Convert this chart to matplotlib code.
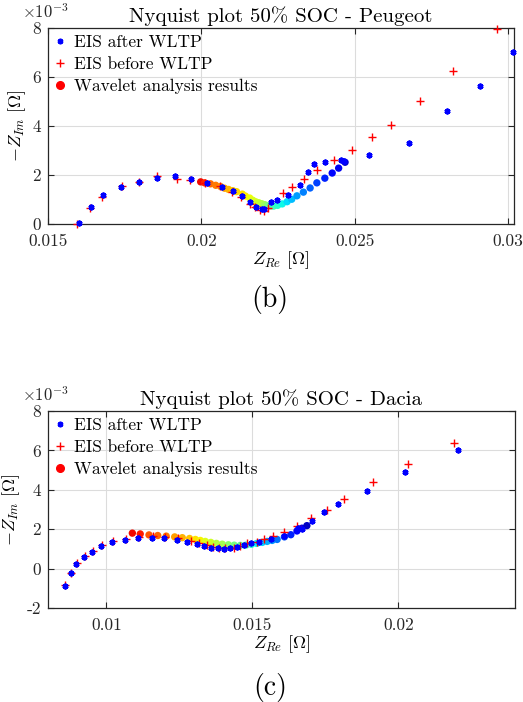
import numpy as np
import matplotlib
matplotlib.use("Agg")
import matplotlib.pyplot as plt
from matplotlib.ticker import MultipleLocator, FuncFormatter

plt.rcParams['font.family'] = 'serif'
plt.rcParams['font.serif'] = ['cmr10', 'DejaVu Serif']
plt.rcParams['mathtext.fontset'] = 'cm'
plt.rcParams['axes.formatter.use_mathtext'] = True
plt.rcParams['axes.unicode_minus'] = False

# ---------------- Peugeot (b) ----------------
peu_after_re = [0.01600, 0.01639, 0.01679, 0.01739, 0.01796, 0.01854, 0.01913, 0.01965,
                0.02020, 0.02066, 0.02104, 0.02133, 0.02158, 0.02179, 0.02197, 0.02205,
                0.02228, 0.02246, 0.02282, 0.02323, 0.02349, 0.02367, 0.02402, 0.02457,
                0.02465, 0.02547, 0.02677, 0.02802, 0.02908, 0.03018]
peu_after_im = [0.03, 0.68, 1.18, 1.53, 1.72, 1.89, 1.95, 1.82,
                1.66, 1.51, 1.34, 1.16, 0.89, 0.71, 0.63, 0.60,
                0.91, 0.97, 1.18, 1.61, 2.12, 2.46, 2.52, 2.62,
                2.57, 2.83, 3.31, 4.60, 5.65, 7.01]

peu_before_re = [0.01596, 0.01638, 0.01676, 0.01740, 0.01798, 0.01856, 0.01921, 0.01963,
                 0.02011, 0.02060, 0.02099, 0.02130, 0.02158, 0.02176, 0.02191, 0.02204,
                 0.02217, 0.02266, 0.02296, 0.02335, 0.02379, 0.02434, 0.02491, 0.02556,
                 0.02619, 0.02715, 0.02821, 0.02966]
peu_before_im = [0.00, 0.67, 1.10, 1.54, 1.73, 1.97, 1.84, 1.81,
                 1.66, 1.54, 1.32, 1.12, 0.81, 0.68, 0.57, 0.53,
                 0.64, 1.28, 1.51, 1.85, 2.22, 2.60, 3.04, 3.54,
                 4.06, 5.03, 6.25, 7.96]

peu_wav_re = [0.01998, 0.02011, 0.02030, 0.02047, 0.02063, 0.02076, 0.02089, 0.02103,
              0.02115, 0.02134, 0.02144, 0.02158, 0.02168, 0.02177, 0.02187, 0.02197,
              0.02207, 0.02216, 0.02226, 0.02236, 0.02249, 0.02264, 0.02280, 0.02295,
              0.02312, 0.02333, 0.02355, 0.02377, 0.02403, 0.02427, 0.02448, 0.02469]
peu_wav_im = [1.72, 1.68, 1.64, 1.58, 1.53, 1.46, 1.41, 1.36,
              1.32, 1.22, 1.14, 1.06, 0.97, 0.91, 0.87, 0.83,
              0.79, 0.75, 0.73, 0.73, 0.76, 0.82, 0.91, 1.01,
              1.15, 1.30, 1.47, 1.68, 1.87, 2.08, 2.28, 2.52]
peu_wav_c = [0.90, 0.87, 0.80, 0.78, 0.76, 0.74, 0.72, 0.70,
             0.68, 0.67, 0.66, 0.64, 0.62, 0.61, 0.59, 0.57,
             0.54, 0.50, 0.46, 0.43, 0.40, 0.37, 0.34, 0.31,
             0.28, 0.25, 0.22, 0.19, 0.16, 0.13, 0.10, 0.07]

# ---------------- Dacia (c) ----------------
dac_after_re = [0.008585, 0.008780, 0.008975, 0.009234, 0.009522, 0.009829, 0.010205,
                0.010632, 0.011077, 0.011548, 0.011969, 0.012413, 0.012779, 0.013110,
                0.013360, 0.013599, 0.013814, 0.014019, 0.014224, 0.014477, 0.014727,
                0.014956, 0.015215, 0.015632, 0.016070, 0.016572, 0.016709, 0.017040,
                0.017471, 0.017949, 0.018930, 0.020239, 0.022030]
dac_after_im = [-0.88, -0.23, 0.22, 0.58, 0.86, 1.17, 1.34,
                1.47, 1.55, 1.57, 1.53, 1.47, 1.37, 1.26,
                1.13, 1.07, 1.03, 1.02, 1.03, 1.08, 1.20,
                1.32, 1.37, 1.48, 1.66, 2.04, 2.02, 2.42,
                2.86, 3.28, 3.93, 4.91, 6.03]

dac_before_re = [0.008592, 0.008797, 0.009002, 0.009258, 0.009549, 0.009856, 0.010239,
                 0.010660, 0.011114, 0.011582, 0.012010, 0.012437, 0.012891, 0.013189,
                 0.013452, 0.013667, 0.013848, 0.014077, 0.014361, 0.014590, 0.014829,
                 0.015161, 0.015386, 0.015707, 0.016100, 0.016528, 0.017016, 0.017553,
                 0.018151, 0.019118, 0.020342, 0.021914]
dac_before_im = [-0.85, -0.20, 0.26, 0.62, 0.90, 1.20, 1.39,
                 1.49, 1.59, 1.64, 1.62, 1.53, 1.40, 1.29,
                 1.19, 1.08, 1.04, 1.03, 1.05, 1.13, 1.28,
                 1.34, 1.48, 1.68, 1.88, 2.18, 2.55, 2.98,
                 3.55, 4.38, 5.32, 6.38]

dac_wav_re = [0.01089, 0.01116, 0.01146, 0.01176, 0.01205, 0.01234, 0.01260, 0.01285,
              0.01305, 0.01322, 0.01339, 0.01358, 0.01377, 0.01397, 0.01418, 0.01438,
              0.01459, 0.01478, 0.01497, 0.01515, 0.01534, 0.01551, 0.01568, 0.01585,
              0.01610, 0.01632, 0.01653, 0.01670, 0.01687]
dac_wav_im = [1.80, 1.76, 1.71, 1.68, 1.65, 1.61, 1.57, 1.53,
              1.48, 1.43, 1.38, 1.33, 1.28, 1.24, 1.21, 1.19,
              1.18, 1.19, 1.23, 1.28, 1.33, 1.38, 1.43, 1.48,
              1.61, 1.72, 1.91, 2.05, 2.18]
dac_wav_c = [0.90, 0.88, 0.82, 0.80, 0.78, 0.74, 0.72, 0.70,
             0.67, 0.65, 0.62, 0.60, 0.57, 0.55, 0.52, 0.49,
             0.46, 0.42, 0.39, 0.36, 0.33, 0.30, 0.27, 0.24,
             0.20, 0.16, 0.12, 0.09, 0.06]

titles = ['Nyquist plot 50% SOC - Peugeot', 'Nyquist plot 50% SOC - Dacia']
panel_labels = ['(b)', '(c)']
legend_labels = ['EIS after WLTP', 'EIS before WLTP', 'Wavelet analysis results']
xlims = [(0.015, 0.0302), (0.0080, 0.0240)]
ylims = [(0.0, 8e-3), (-2e-3, 8e-3)]

W, H = 523, 702
fig = plt.figure(figsize=(W / 100, H / 100), dpi=100)
ax1 = fig.add_axes([48 / W, 1 - 224 / H, 466 / W, 196 / H])
ax2 = fig.add_axes([48 / W, 1 - 608 / H, 467 / W, 197 / H])

datasets = [
    (peu_after_re, peu_after_im, peu_before_re, peu_before_im, peu_wav_re, peu_wav_im, peu_wav_c),
    (dac_after_re, dac_after_im, dac_before_re, dac_before_im, dac_wav_re, dac_wav_im, dac_wav_c),
]
cmap = plt.get_cmap('jet')
asterisk = (6, 2, 0)

for i, ax in enumerate([ax1, ax2]):
    a_re, a_im, b_re, b_im, w_re, w_im, w_c = datasets[i]
    a_im = np.array(a_im) * 1e-3
    b_im = np.array(b_im) * 1e-3
    w_im = np.array(w_im) * 1e-3
    ax.scatter(w_re, w_im, c=[cmap(v) for v in w_c], s=28, zorder=2, linewidths=0, clip_on=False)
    ax.plot(b_re, b_im, linestyle='none', marker='+', color='red', markersize=6,
            markeredgewidth=1.0, zorder=3, clip_on=False)
    ax.plot(a_re, a_im, linestyle='none', marker=asterisk, color='blue', markersize=4.2,
            markeredgewidth=1.5, zorder=4, clip_on=False)

    ax.set_xlim(*xlims[i])
    ax.set_ylim(*ylims[i])
    ax.xaxis.set_major_locator(MultipleLocator(0.005))
    ax.yaxis.set_major_locator(MultipleLocator(0.002))
    ax.xaxis.set_major_formatter(FuncFormatter(lambda v, p: f'{v:g}'))
    ax.yaxis.set_major_formatter(FuncFormatter(lambda v, p: f'{round(v * 1e3):d}'))
    ax.grid(True, color='#dcdcdc', linewidth=0.8)
    ax.set_axisbelow(True)
    for sp in ax.spines.values():
        sp.set_color('#262626')
        sp.set_linewidth(0.9)
    ax.tick_params(direction='in', top=True, right=True, length=4, width=0.8,
                   colors='#262626', labelsize=12.5)
    ax.tick_params(axis='x', pad=7)
    ax.tick_params(axis='y', pad=5)
    ax.set_title(titles[i], fontsize=15, pad=4)
    ax.set_xlabel(r'$Z_{Re}\ [\Omega]$', fontsize=13, labelpad=0)
    ax.set_ylabel(r'$-Z_{Im}\ [\Omega]$', fontsize=13, labelpad=3)
    ax.text(-0.056, 1.085, r'$\times10^{-3}$', transform=ax.transAxes, fontsize=12,
            ha='left', va='center', color='#262626')

    h_a = plt.Line2D([], [], linestyle='none', marker=asterisk, color='blue',
                     markersize=4, markeredgewidth=1.5)
    h_b = plt.Line2D([], [], linestyle='none', marker='+', color='red',
                     markersize=6, markeredgewidth=1.0)
    h_w = plt.Line2D([], [], linestyle='none', marker='o', color='red', markersize=5.5)
    ax.legend([h_a, h_b, h_w], legend_labels, loc='upper left', frameon=False,
              fontsize=12.5, handlelength=0.6, handletextpad=0.5, labelspacing=0.38,
              borderaxespad=0.2, borderpad=0.2)

fig.text(270 / W, 1 - 300 / H, panel_labels[0], ha='center', va='center', fontsize=20)
fig.text(270 / W, 1 - 688 / H, panel_labels[1], ha='center', va='center', fontsize=20)

fig.savefig('out.png', dpi=100)
